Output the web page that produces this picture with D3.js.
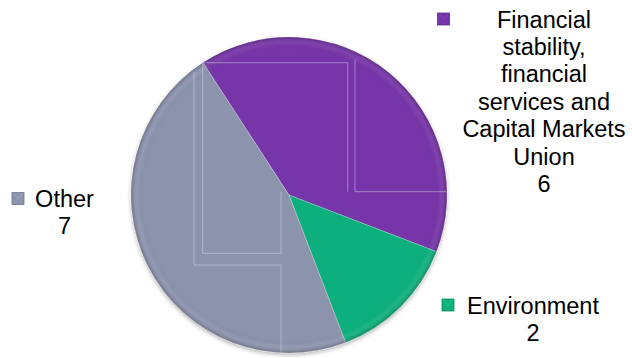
<!DOCTYPE html>
<html>
<head>
<meta charset="utf-8">
<script src="https://cdn.jsdelivr.net/npm/d3@7"></script>
<style>
  html, body { margin: 0; padding: 0; background: #fff; }
  svg { display: block; }
  text { font-family: "Liberation Sans", Arial, sans-serif; fill: #000; }
</style>
</head>
<body>
<svg id="chart" width="632" height="358"></svg>
<script>
// ---- data ----
const categories = ["Financial stability, financial services and Capital Markets Union", "Environment", "Other"];
const values = [6, 2, 7];
const labelLines = [
  ["Financial", "stability,", "financial", "services and", "Capital Markets", "Union"],
  ["Environment"],
  ["Other"]
];
const colors = ["#7634A8", "#0EB07B", "#8B93AD"];

// ---- layout ----
const W = 632, H = 358;
const cx = 289, cy = 195, R = 158;
const startDeg = -33;
const fontSize = 23.5, lineH = 27.4;
const labelPos = [
  { x: 544, y: 27.5, mx: 437.5 },
  { x: 533, y: 313.5, mx: 442 },
  { x: 64.5, y: 207, mx: 12 }
];

const svg = d3.select("#chart");
const defs = svg.append("defs");

const f = defs.append("filter").attr("id", "shadow").attr("x", "-10%").attr("y", "-10%").attr("width", "120%").attr("height", "120%");
f.append("feGaussianBlur").attr("in", "SourceAlpha").attr("stdDeviation", 2.2).attr("result", "b");
f.append("feOffset").attr("in", "b").attr("dx", 0).attr("dy", 1.5).attr("result", "o");
f.append("feComponentTransfer").attr("in", "o").attr("result", "o2")
  .append("feFuncA").attr("type", "linear").attr("slope", 0.3);
const fm = f.append("feMerge");
fm.append("feMergeNode").attr("in", "o2");
fm.append("feMergeNode").attr("in", "SourceGraphic");

const rg = defs.append("radialGradient").attr("id", "rim")
  .attr("gradientUnits", "userSpaceOnUse").attr("cx", 0).attr("cy", 0).attr("r", R);
rg.append("stop").attr("offset", "0%").attr("stop-color", "#000").attr("stop-opacity", 0);
rg.append("stop").attr("offset", "92%").attr("stop-color", "#000").attr("stop-opacity", 0);
rg.append("stop").attr("offset", "96%").attr("stop-color", "#fff").attr("stop-opacity", 0.06);
rg.append("stop").attr("offset", "100%").attr("stop-color", "#000").attr("stop-opacity", 0.22);

const pie = d3.pie().sort(null).value(d => d)
  .startAngle(startDeg * Math.PI / 180)
  .endAngle(startDeg * Math.PI / 180 + 2 * Math.PI);
const arcs = pie(values);
const arc = d3.arc().innerRadius(0).outerRadius(R);

const g = svg.append("g").attr("transform", `translate(${cx},${cy})`);
const pg = g.append("g").attr("filter", "url(#shadow)");
pg.selectAll("path.slice").data(arcs).join("path")
  .attr("class", "slice")
  .attr("d", arc)
  .attr("fill", (d, i) => colors[i]);
pg.selectAll("path.rim").data(arcs).join("path")
  .attr("class", "rim")
  .attr("d", arc)
  .attr("fill", "url(#rim)")
  .attr("stroke", "rgba(255,255,255,0.18)")
  .attr("stroke-width", 1);

const guides = [
  [[-85.7, -132.3], [58.7, -132.3], [58.7, -3.3]],
  [[66, -135.7], [66, -3.3], [157.7, -3.3]],
  [[-86.3, -132.3], [-86.3, 58.3], [-8, 58.3], [-8, -3.3]],
  [[-95, -123.3], [-95, 70], [-8, 70], [-8, 160]]
];
g.selectAll("path.guide").data(guides).join("path")
  .attr("class", "guide")
  .attr("d", d => d3.line()(d))
  .attr("fill", "none")
  .attr("stroke", "rgba(225,225,235,0.45)")
  .attr("stroke-width", 1);

const lg = svg.append("g");
arcs.forEach((a, i) => {
  const p = labelPos[i];
  const t = lg.append("text")
    .attr("text-anchor", "middle")
    .attr("font-size", fontSize);
  const lines = labelLines[i].concat([String(values[i])]);
  lines.forEach((ln, k) => {
    t.append("tspan").attr("x", p.x).attr("y", p.y + k * lineH).text(ln);
  });
  const ms = 12;
  const my = p.y - 8.5 - ms / 2;
  const c = d3.color(colors[i]);
  lg.append("rect")
    .attr("x", p.mx).attr("y", my).attr("width", ms).attr("height", ms)
    .attr("fill", colors[i])
    .attr("stroke", c.darker(0.6)).attr("stroke-width", 0.8);
  lg.append("path")
    .attr("d", `M${p.mx + 1},${my + 1}L${p.mx + ms / 2},${my + ms / 2}L${p.mx + ms - 1},${my + 1}`)
    .attr("fill", "none").attr("stroke", c.brighter(0.7)).attr("stroke-width", 0.8).attr("opacity", 0.8);
});
</script>
</body>
</html>
